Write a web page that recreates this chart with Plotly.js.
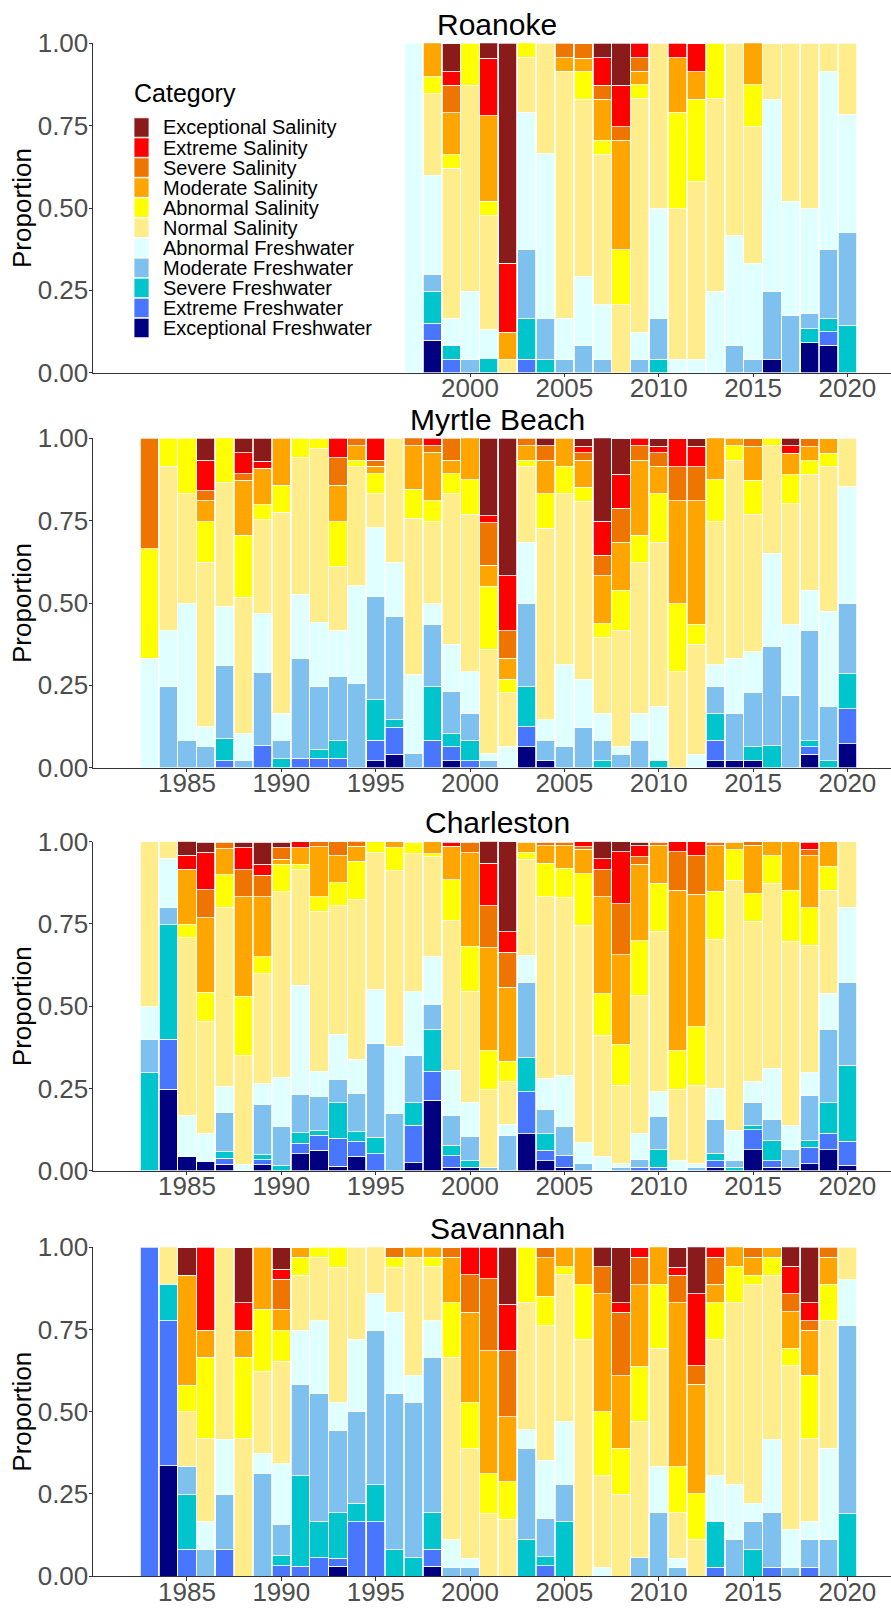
<!DOCTYPE html>
<html><head><meta charset="utf-8">
<script src="https://cdn.plot.ly/plotly-3.0.1.min.js"></script>
<style>html,body{margin:0;padding:0;background:#fff;} #chart{width:891px;height:1609px;}</style>
</head><body><div id="chart"></div>
<script>
// Categories, stacked bottom to top
const categories = ["Exceptional Freshwater","Extreme Freshwater","Severe Freshwater","Moderate Freshwater","Abnormal Freshwater","Normal Salinity","Abnormal Salinity","Moderate Salinity","Severe Salinity","Extreme Salinity","Exceptional Salinity"];
const colors = ["#000080","#4876FF","#00C5CD","#7EC0EE","#E0FFFF","#FFEC8B","#FFFF00","#FFA500","#EE7600","#FF0000","#8B1A1A"];
const siteNames = ["Roanoke","Myrtle Beach","Charleston","Savannah"];

const roanokeYears = [1997,1998,1999,2000,2001,2002,2003,2004,2005,2006,2007,2008,2009,2010,2011,2012,2013,2014,2015,2016,2017,2018,2019,2020];
const fullYears = [1983,1984,1985,1986,1987,1988,1989,1990,1991,1992,1993,1994,1995,1996,1997,1998,1999,2000,2001,2002,2003,2004,2005,2006,2007,2008,2009,2010,2011,2012,2013,2014,2015,2016,2017,2018,2019,2020];
const roanokeTicks = [2000,2005,2010,2015,2020];
const fullTicks = [1985,1990,1995,2000,2005,2010,2015,2020];
const yTicks = [0,0.25,0.5,0.75,1];
const yTickText = ["0.00","0.25","0.50","0.75","1.00"];

// rows = years; columns = categories (same order as `categories`)
const roanoke = [
[0,0,0,0,1,0,0,0,0,0,0],
[.099,.051,.098,.051,.300,.248,.051,.103,0,0,0],
[0,.041,.041,0,.082,.457,.041,.127,.083,.041,.085],
[0,0,0,.041,.206,.626,.127,0,0,0,0],
[0,0,.044,0,.086,.347,.044,.259,0,.175,.046],
[0,0,0,0,0,.041,0,.082,0,.210,.667],
[0,.041,.124,.210,.416,.166,.044,0,0,0,0],
[0,0,.041,.124,.499,.336,0,0,0,0,0],
[0,0,0,.041,.124,.750,0,.041,.044,0,0],
[0,0,0,.083,.208,.539,.084,.041,.044,0,0],
[0,0,0,.041,.166,.456,.043,.124,.043,.083,.044],
[0,0,0,0,0,.207,.167,.332,.041,.126,.127],
[0,0,0,.041,.082,.708,.043,.041,.041,.044,0],
[0,0,.041,.124,.333,.502,0,0,0,0,0],
[0,0,0,0,.041,.456,.293,.166,0,.044,0],
[0,0,0,0,.041,.539,.250,.084,0,.085,0],
[0,0,0,0,.248,.583,.169,0,0,0,0],
[0,0,0,.083,.333,.584,0,0,0,0,0],
[0,0,0,.041,.292,.414,.127,.127,0,0,0],
[.041,0,0,.206,.583,.169,0,0,0,0,0],
[0,0,0,.175,.345,.480,0,0,0,0,0],
[.091,0,.044,.045,.318,.502,0,0,0,0,0],
[.083,.041,.041,.210,.540,.085,0,0,0,0,0],
[0,0,.142,.285,.356,.217,0,0,0,0,0]
];

const myrtleBeach = [
[0,0,0,0,.333,0,.331,0,.336,0,0],
[0,0,0,.248,.168,.499,.085,0,0,0,0],
[0,0,0,.083,.415,.333,.169,0,0,0,0],
[0,0,0,.064,.060,.499,.124,.064,.029,.094,.066],
[0,.021,.069,.219,.179,.377,.136,0,0,0,0],
[0,0,0,.021,.083,.414,.188,.167,.019,.064,.044],
[0,.067,0,.222,.178,.286,.045,.111,0,.022,.069],
[0,0,.029,.054,.082,.610,.083,.142,0,0,0],
[0,.029,0,.304,.193,.415,.059,0,0,0,0],
[0,.029,.025,.193,.195,.526,.030,0,0,0,0],
[0,.029,.054,.193,.140,.194,.137,.111,.083,.059,0],
[0,0,0,.255,.297,.362,.020,.043,.023,0,0],
[.021,.062,.124,.312,.210,.102,.062,.022,.019,.066,0],
[.041,.082,.022,.313,.164,.378,0,0,0,0,0],
[0,0,0,.044,.238,.476,.088,.132,.023,0,0],
[0,.083,.165,.188,.062,.249,.063,.147,.020,.023,0],
[.021,.043,.040,.126,.145,.456,.062,.041,.066,0,0],
[0,.021,.062,.082,.127,.478,.104,.127,0,0,0],
[0,0,0,.021,.022,.317,.191,.064,.129,.021,.235],
[0,0,0,0,.064,.164,.041,.064,.083,.166,.418],
[.064,.060,.124,.250,.187,.230,.019,.043,.023,0,0],
[.021,0,0,.062,.062,.582,.104,.103,.043,0,.023],
[0,0,0,.064,.248,.519,.084,.085,0,0,0],
[0,0,0,.123,.146,.540,.043,.082,.022,.020,.023],
[0,0,.021,.062,.082,.229,.043,.146,.062,.103,.253],
[0,0,0,.041,.022,.352,.123,.146,.104,.103,.107],
[0,0,0,.083,.082,.457,.084,.228,.043,.023,0],
[0,0,.021,0,.166,.498,.146,.084,.041,.020,.023],
[0,0,0,0,0,.291,.206,.313,.104,.085,0],
[0,0,0,0,.041,.333,.062,.374,.104,.062,.023],
[.021,.062,.082,.083,.064,.435,.127,.127,0,0,0],
[.021,0,0,.144,.168,.601,.043,.023,0,0,0],
[.021,0,.043,.164,.124,.417,.104,.103,.023,0,0],
[0,0,.067,.301,.283,.326,.023,0,0,0,0],
[0,0,0,.218,.216,.368,.087,.066,0,.022,.023],
[.041,.022,.019,.333,.123,.353,.041,.043,.023,0,0],
[0,0,.021,.166,.288,.439,.041,.044,0,0,0],
[.072,.107,.106,.213,.355,.147,0,0,0,0,0]
];

const charleston = [
[0,0,.299,.101,.098,.502,0,0,0,0,0],
[.248,.152,.348,.052,.148,.053,0,0,0,0,0],
[.042,0,0,0,.125,.541,.041,.168,0,.042,.043],
[.028,0,0,0,.084,.342,.088,.227,.085,.114,.030],
[.020,.018,.020,.118,.079,.546,.099,.078,.021,0,0],
[0,0,0,0,.018,.331,.182,.301,.083,.066,.018],
[.018,.015,.017,.151,.064,.334,.051,.182,.066,.033,.068],
[0,0,.017,.117,.150,.564,.084,.015,.034,0,.018],
[.051,.032,.032,.118,.331,.352,.016,.050,0,.018,0],
[.062,.046,.015,.104,.076,.485,.045,.152,.015,0,0],
[.013,.085,.108,.070,.139,.390,.070,.082,.043,0,0],
[.044,.045,.030,.117,.103,.484,.118,.045,.015,0,0],
[0,.051,.050,.285,.164,.417,.033,0,0,0,0],
[0,0,0,.174,.205,.532,.071,.018,0,0,0],
[.024,.114,.070,.141,.195,.419,.036,0,0,0,0],
[.214,.089,.125,.078,.144,.304,.010,.036,0,0,0],
[.011,.034,.032,.092,.137,.454,.125,.101,0,.013,0],
[.011,0,.019,.075,.103,.338,.136,.284,.033,0,0],
[0,0,0,.011,0,.235,.119,.312,.129,.129,.066],
[0,0,0,.106,.035,.129,.063,.225,.106,.062,.274],
[.113,.127,.103,.228,.084,.291,.022,.031,0,0,0],
[.030,.032,.051,.074,.094,.551,.103,.053,.011,0,0],
[.011,.034,0,.090,.155,.540,.090,.068,.011,0,0],
[0,0,0,.023,.062,.661,.157,.074,.008,.015,0],
[0,0,0,0,.042,.369,.127,.294,.083,.033,.053],
[0,0,0,.011,.010,.238,.125,.273,.155,.157,.031],
[0,.011,0,.022,.079,.420,.167,.232,.023,.033,.011],
[0,.011,.052,.103,.074,.488,.146,.114,.011,0,0],
[0,0,0,0,.030,.218,.117,.488,.116,.031,0],
[0,0,0,.011,.010,.238,.178,.404,.116,.043,0],
[.011,.019,.023,.103,.095,.452,.147,.138,.011,0,0],
[0,0,.011,.019,.093,.760,.093,.023,0,0,0],
[.063,.061,.012,.071,.063,.488,.084,.147,.011,0,0],
[.011,.019,.063,.064,.155,.562,.083,.043,0,0,0],
[.011,0,0,.052,.073,.562,.155,.147,0,0,0],
[.021,.051,.021,.137,.070,.386,.114,.157,.019,.023,0],
[.063,.051,.093,.221,.112,.313,.073,.074,0,0,0],
[.017,.073,.230,.251,.230,.199,0,0,0,0,0]
];

const savannah = [
[0,1,0,0,0,0,0,0,0,0,0],
[.335,.441,.111,0,0,.114,0,0,0,0,0],
[0,.082,.167,.085,0,.165,.082,.334,0,0,.084],
[0,0,0,.082,.083,.252,.248,.082,0,.253,0],
[0,.082,0,.167,.167,.583,0,0,0,0,0],
[0,0,0,0,0,.417,.248,.082,0,.085,.167],
[0,0,0,.312,.062,.249,.188,.189,0,0,0],
[0,.031,.032,.094,.184,.313,.092,.064,.093,.030,.065],
[0,.029,.276,.277,.165,.168,.054,.030,0,0,0],
[0,.055,.111,.388,.222,.194,.030,0,0,0,0],
[.029,.025,.139,.251,.083,.413,.060,0,0,0,0],
[0,.165,.057,.278,.221,.279,0,0,0,0,0],
[0,.165,.112,.471,.111,.142,0,0,0,0,0],
[0,0,.082,.472,.249,.137,.029,0,.030,0,0],
[0,0,.055,.473,.082,.360,0,.030,0,0,0],
[.029,.053,.112,.472,.111,.164,.029,.030,0,0,0],
[0,0,0,.027,.084,.554,.166,.138,.030,0,0],
[0,0,0,.027,.027,.333,.140,.276,.113,.084,0],
[0,0,0,0,0,.189,.122,.375,.218,.096,0],
[0,0,0,0,0,.172,.114,.198,.201,.141,.174],
[0,0,.112,.277,.056,.387,.168,0,0,0,0],
[0,.031,.027,.117,.177,.410,.089,.117,.031,0,0],
[0,0,.165,.112,.194,.445,.025,.059,0,0,0],
[0,0,0,0,0,.721,.165,.114,0,0,0],
[0,0,0,0,.027,.278,.195,.358,.083,0,.059],
[0,0,0,0,0,.249,.139,.221,.194,.028,.168],
[0,0,0,.055,0,.416,.167,.248,.083,.030,0],
[0,0,0,.194,.139,.360,.194,.114,0,0,0],
[0,0,0,.027,.027,.139,.139,.499,.084,.025,.059],
[0,0,0,0,0,.112,.138,.333,.057,.219,.142],
[0,.027,.138,0,.140,.416,.111,.055,.083,.030,0],
[0,0,0,.112,.165,.555,.110,.059,0,0,0],
[0,0,.082,.083,.057,.664,.029,.054,.030,0,0],
[0,.027,0,.166,.223,.499,.054,.030,0,0,0],
[0,0,0,.027,.113,.499,.054,.111,.055,.083,.059],
[0,.027,0,.084,.054,.252,.193,.138,.028,.056,.168],
[0,0,0,.112,.276,.388,.111,.083,.030,0,0],
[0,0,.190,.571,.140,.099,0,0,0,0,0]
];

// ---------- layout geometry (pixels) ----------
const W = 891, H = 1609, L = 93, R = 891;
const FONT = "Liberation Sans, Arial, sans-serif";
const panelTop = [43.3, 438.3, 841.7, 1247.3];
const panelBottom = [372.7, 767.7, 1170.7, 1576];
const px2x = px => (px - L) / (R - L);
const py2y = py => 1 - py / H;

const panels = [
  {years: roanokeYears, data: roanoke, ticks: roanokeTicks},
  {years: fullYears, data: myrtleBeach, ticks: fullTicks},
  {years: fullYears, data: charleston, ticks: fullTicks},
  {years: fullYears, data: savannah, ticks: fullTicks}
];

const traces = [];
const layout = {
  width: W, height: H,
  margin: {l: L, r: W - R, t: 0, b: 0, autoexpand: false},
  paper_bgcolor: "#ffffff", plot_bgcolor: "#ffffff",
  barmode: "stack",
  showlegend: false,
  font: {family: FONT, color: "#000000"},
  annotations: [], shapes: []
};

panels.forEach((p, i) => {
  const sfx = i === 0 ? "" : String(i + 1);
  categories.forEach((c, k) => {
    traces.push({
      type: "bar", name: c,
      x: p.years,
      y: p.data.map(r => (r[k] === 0 ? null : r[k])),
      xaxis: "x" + sfx, yaxis: "y" + sfx,
      width: 0.965,
      marker: {color: colors[k], line: {color: "#ffffff", width: 0.8}},
      showlegend: false,
      hovertemplate: siteNames[i] + " %{x}<br>" + c + ": %{y:.3f}<extra></extra>"
    });
  });
  layout["xaxis" + sfx] = {
    domain: [0, 1], anchor: "y" + sfx,
    range: [1980.02, 2022.31],
    tickmode: "array", tickvals: p.ticks, ticktext: p.ticks.map(String),
    ticks: "outside", ticklen: 3.5, tickwidth: 1, tickcolor: "#333333",
    ticklabelstandoff: -11,
    showline: true, linecolor: "#333333", linewidth: 1,
    showgrid: false, zeroline: false,
    tickfont: {family: FONT, size: 26, color: "#4D4D4D"}
  };
  layout["yaxis" + sfx] = {
    domain: [py2y(panelBottom[i]), py2y(panelTop[i])], anchor: "x" + sfx,
    range: [0, 1],
    tickmode: "array", tickvals: yTicks, ticktext: yTickText,
    ticks: "outside", ticklen: 3.5, tickwidth: 1, tickcolor: "#333333",
    ticklabelstandoff: -5,
    showline: true, linecolor: "#333333", linewidth: 1,
    showgrid: false, zeroline: false,
    tickfont: {family: FONT, size: 26, color: "#4D4D4D"}
  };
  // panel title
  layout.annotations.push({
    text: siteNames[i], xref: "paper", yref: "paper",
    x: px2x(497.5), y: py2y(panelTop[i] - 19.3),
    xanchor: "center", yanchor: "middle", showarrow: false,
    font: {family: FONT, size: 30, color: "#000000"}
  });
  // y-axis title
  layout.annotations.push({
    text: "Proportion", xref: "paper", yref: "paper",
    x: px2x(22), y: py2y((panelTop[i] + panelBottom[i]) / 2),
    xanchor: "center", yanchor: "middle", textangle: -90, showarrow: false,
    font: {family: FONT, size: 26, color: "#000000"}
  });
});

// ---------- manual legend (inside Roanoke panel) ----------
layout.annotations.push({
  text: "Category", xref: "paper", yref: "paper",
  x: px2x(132), y: py2y(93.3), xanchor: "left", yanchor: "middle",
  showarrow: false, font: {family: FONT, size: 25, color: "#000000"}
});
const legendOrder = categories.slice().reverse();
const legendColors = colors.slice().reverse();
legendOrder.forEach((c, j) => {
  const yc = 127.5 + j * 20.05;
  layout.shapes.push({
    type: "rect", xref: "paper", yref: "paper",
    x0: px2x(134), x1: px2x(149), y0: py2y(yc - 9.7), y1: py2y(yc + 9.7),
    fillcolor: legendColors[j], line: {color: "#ffffff", width: 0.8}
  });
  layout.annotations.push({
    text: c, xref: "paper", yref: "paper",
    x: px2x(161.3), y: py2y(yc), xanchor: "left", yanchor: "middle",
    showarrow: false, font: {family: FONT, size: 20, color: "#000000"}
  });
});

Plotly.newPlot("chart", traces, layout, {staticPlot: true, displayModeBar: false});
</script>
</body></html>
